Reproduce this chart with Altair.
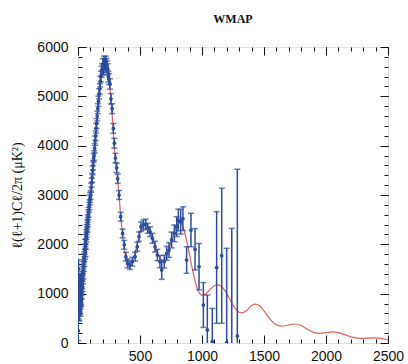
import altair as alt
import pandas as pd

# ---------------- data ----------------
model_ell = [2, 5, 10, 15, 20, 30, 40, 50, 60, 70, 80, 90, 100, 110, 120, 130, 140, 150, 160, 170,
             180, 190, 200, 210, 220, 230, 240, 250, 260, 270, 280, 290, 300, 310, 320, 330, 340,
             350, 360, 370, 380, 390, 400, 410, 420, 430, 440, 460, 480, 500, 520, 540, 560, 580,
             600, 620, 640, 660, 680, 700, 720, 740, 760, 780, 800, 820, 840, 860, 880, 900, 920,
             940, 960, 980, 1000, 1020, 1040, 1060, 1080, 1100, 1130, 1160, 1200, 1240, 1280, 1320,
             1360, 1400, 1430, 1460, 1500, 1550, 1600, 1650, 1700, 1750, 1800, 1850, 1900, 1950,
             2000, 2050, 2100, 2150, 2200, 2250, 2300, 2350, 2400, 2450, 2500]
model_dl = [1250, 1050, 950, 950, 1000, 1100, 1350, 1600, 1850, 2100, 2350, 2600, 2850, 3150, 3450,
            3750, 4080, 4420, 4750, 5050, 5320, 5530, 5680, 5760, 5770, 5700, 5560, 5360, 5110,
            4810, 4470, 4100, 3720, 3500, 3300, 3020, 2700, 2420, 2180, 1960, 1800, 1690, 1620,
            1590, 1600, 1630, 1680, 1820, 2030, 2230, 2370, 2420, 2390, 2290, 2140, 1970, 1820,
            1720, 1680, 1700, 1800, 1950, 2120, 2270, 2390, 2440, 2400, 2240, 2030, 1780, 1530,
            1300, 1120, 1010, 970, 980, 1020, 1070, 1120, 1160, 1180, 1140, 1000, 810, 660, 610,
            660, 760, 790, 760, 650, 480, 370, 340, 365, 385, 355, 280, 215, 195,
            210, 225, 210, 170, 125, 100, 95, 100, 105, 90, 65]

data_ell = [2, 3, 4, 5, 6, 7, 8, 9, 10, 11, 12, 13, 14, 15, 16, 17, 18, 19, 20, 21, 22, 23, 24, 25,
            26, 27, 28, 29, 30,
            32, 34, 36, 38, 40, 42, 44, 46, 48, 50, 52, 54, 56, 58, 60, 62, 64, 66, 68, 70, 72, 74,
            76, 78, 80, 83, 86, 89, 92, 95, 98,
            102, 106, 110, 114, 118, 122, 126, 130, 134, 138, 142, 146, 150,
            155, 160, 165, 170, 175, 180, 185, 190, 195, 200, 205, 210, 215, 220, 225, 230, 235,
            240, 245, 250,
            258, 266, 275, 285, 293, 302, 312, 320, 331, 344, 360, 373,
            386, 400, 419, 438, 460, 478, 492, 508, 527, 546, 562, 581, 600, 621, 640, 661, 675,
            696, 715, 734, 755, 777, 796, 809, 828, 846,
            876, 911, 944, 976, 1011, 1043, 1083, 1118, 1159, 1199, 1240, 1285]
data_dl = [250, 1050, 700, 1500, 650, 1150, 800, 1000, 600, 1100, 900, 750, 1250, 850, 1050, 950,
           700, 900, 1200, 650, 800, 1000, 1300, 900, 1100, 1250, 850, 1150, 1000,
           1200, 1350, 1150, 1450, 1300, 1550, 1400, 1700, 1550, 1750, 1650, 1900, 1800, 2000,
           1850, 2100, 2000, 2200, 2150, 2300, 2250, 2400, 2350, 2500, 2450, 2600, 2650, 2750,
           2800, 2900, 2950,
           3000, 3150, 3250, 3350, 3500, 3600, 3750, 3800, 3950, 4100, 4200, 4350, 4450,
           4600, 4750, 4900, 5050, 5150, 5300, 5400, 5500, 5550, 5650, 5550, 5700, 5650, 5600,
           5700, 5650, 5600, 5550, 5400, 5350,
           5250, 4950, 4750, 4350, 4050, 3750, 3550, 3330, 3000, 2560, 2220, 1990,
           1750, 1614, 1581, 1649, 1750, 1953, 2155, 2358, 2392, 2412, 2325, 2257, 2122, 1953,
           1784, 1649, 1480, 1649, 1818, 1885, 2088, 2223, 2358, 2493, 2459, 2520,
           1682, 2290, 1900, 1547, 770, 264, 30, 1530, 1770, 10, -100, 142]
data_err = [200, 200, 200, 190, 180, 170, 160, 150, 150, 140, 140, 130, 130, 130, 120, 120, 120,
            120, 120, 110, 110, 110, 110, 110, 110, 110, 110, 110, 110,
            100, 100, 100, 100, 100, 100, 100, 100, 100, 100, 100, 100, 100, 100, 100, 100, 100,
            100, 100, 100, 100, 100, 100, 100, 100, 100, 100, 100, 100, 100, 100,
            90, 90, 90, 90, 90, 90, 90, 95, 95, 95, 95, 100, 100,
            100, 100, 105, 105, 105, 110, 110, 110, 110, 115, 115, 115, 115, 115, 115, 115, 115,
            110, 110, 110,
            105, 105, 100, 100, 100, 95, 95, 95, 90, 90, 90, 90,
            90, 90, 90, 90, 90, 90, 95, 95, 100, 100, 100, 100, 100, 110, 115, 125, 190, 130,
            140, 150, 160, 170, 200, 220, 250, 240,
            270, 340, 420, 470, 455, 709, 670, 1132, 1368, 1910, 2425, 3380]

x_major = [0, 500, 1000, 1500, 2000, 2500]
x_minor = list(range(0, 2501, 100))
y_major = [0, 1000, 2000, 3000, 4000, 5000, 6000]
y_minor = list(range(0, 6001, 200))

chart_title = "WMAP"
y_title = "ℓ(ℓ+1)Cℓ/2π (μK²)"

BLUE = "#2c4c9c"
RED = "#e0605c"

model_df = pd.DataFrame({"ell": model_ell, "dl": model_dl})
data_df = pd.DataFrame({"ell": data_ell, "dl": data_dl, "err": data_err})
data_df["lo"] = data_df["dl"] - data_df["err"]
data_df["hi"] = data_df["dl"] + data_df["err"]

xscale = alt.Scale(domain=[0, 2500], nice=False, zero=False)
yscale = alt.Scale(domain=[0, 6000], nice=False, zero=False)

LABEL_FONT = "Liberation Sans"


def axis(orient, values, size, labels=False, **kw):
    return alt.Axis(
        orient=orient, values=values, tickSize={"expr": str(-size)}, ticks=True,
        tickColor="#111111", tickWidth=1, domain=False, grid=False, labels=labels,
        labelFlush=False, labelOverlap=False, labelFont=LABEL_FONT, labelFontSize=14,
        labelColor="#111111", format="d", **kw)


line = alt.Chart(model_df).mark_line(color=RED, strokeWidth=1.2, clip=True,
                                     interpolate="monotone").encode(
    x=alt.X("ell:Q", scale=xscale,
            axis=axis("bottom", x_major, 8, labels=True, title=None, labelPadding=14,
                      labelExpr="datum.value == 0 ? '' : datum.label")),
    y=alt.Y("dl:Q", scale=yscale,
            axis=axis("left", y_major, 8, labels=True, title=y_title, labelPadding=18,
                      titleFont="Liberation Serif", titleFontSize=14, titleFontWeight="normal",
                      titleColor="#111111", titleX=-61, titleY=148, titleBaseline="middle",
                      titleAlign="center")),
)

bars = alt.Chart(data_df).mark_rule(color=BLUE, strokeWidth=1.5, clip=True).encode(
    x=alt.X("ell:Q", scale=xscale, axis=axis("bottom", x_minor, 4, title=None)),
    y=alt.Y("lo:Q", scale=yscale, axis=axis("left", y_minor, 4, title=None)),
    y2="hi:Q",
)

caps_lo = alt.Chart(data_df).mark_tick(color=BLUE, orient="horizontal", size=6, thickness=1.5,
                                        clip=True).encode(
    x=alt.X("ell:Q", scale=xscale, axis=axis("top", x_major, 8, title=None)),
    y=alt.Y("lo:Q", scale=yscale, axis=axis("right", y_major, 8, title=None)),
)

caps_hi = alt.Chart(data_df).mark_tick(color=BLUE, orient="horizontal", size=6, thickness=1.5,
                                        clip=True).encode(
    x=alt.X("ell:Q", scale=xscale, axis=axis("top", x_minor, 4, title=None)),
    y=alt.Y("hi:Q", scale=yscale, axis=axis("right", y_minor, 4, title=None)),
)

points = alt.Chart(data_df).mark_circle(color=BLUE, size=14, opacity=1, clip=True).encode(
    x=alt.X("ell:Q", scale=xscale, axis=None),
    y=alt.Y("dl:Q", scale=yscale, axis=None),
)

chart = alt.layer(line, bars, caps_lo, caps_hi, points).resolve_axis(
    x="independent", y="independent"
).properties(
    width=310, height=296,
    title=alt.TitleParams(chart_title, font="Liberation Serif", fontSize=12, fontWeight="bold",
                          color="#111111", anchor="middle", frame="group", offset=14),
    autosize=alt.AutoSizeParams(type="none"),
    padding={"left": 78, "top": 47, "right": 20, "bottom": 21},
).configure_view(stroke="#111111", strokeWidth=1).configure(background="white")

chart.save("out.html", embed_options={"renderer": "svg", "actions": False})
